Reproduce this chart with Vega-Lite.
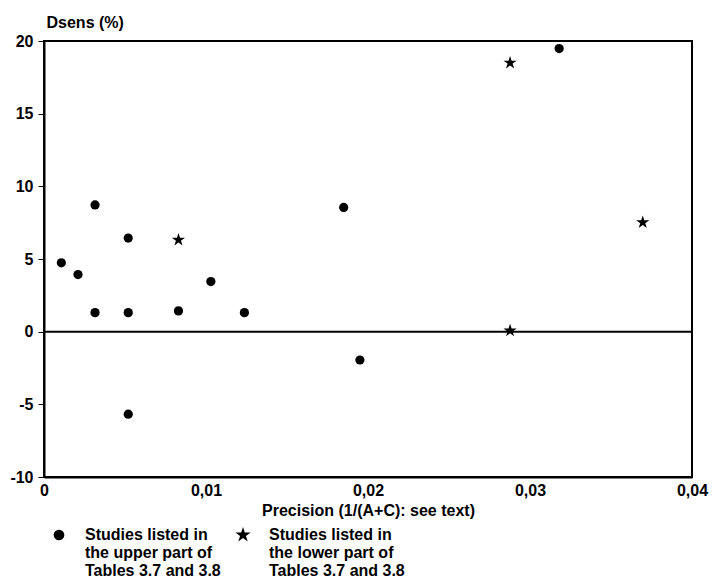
{
  "$schema": "https://vega.github.io/schema/vega-lite/v6.json",
  "width": 648,
  "height": 436,
  "autosize": {"type": "none"},
  "padding": {"left": 44, "top": 41, "right": 20, "bottom": 105},
  "background": "white",
  "config": {
    "font": "Liberation Sans",
    "view": {"stroke": "black", "strokeWidth": 2},
    "axis": {
      "grid": false,
      "domainColor": "black",
      "domainWidth": 2,
      "tickColor": "black",
      "labelColor": "black",
      "titleColor": "black",
      "labelFont": "Liberation Sans",
      "titleFont": "Liberation Sans",
      "labelFontWeight": "bold",
      "titleFontWeight": "bold",
      "labelFontSize": 16,
      "titleFontSize": 16
    }
  },
  "layer": [
    {
      "data": {
        "values": [
          {"precision": 0.00107, "dsens": 4.74, "group": "upper"},
          {"precision": 0.0021, "dsens": 3.93, "group": "upper"},
          {"precision": 0.00315, "dsens": 8.72, "group": "upper"},
          {"precision": 0.00315, "dsens": 1.31, "group": "upper"},
          {"precision": 0.0052, "dsens": 6.44, "group": "upper"},
          {"precision": 0.0052, "dsens": 1.31, "group": "upper"},
          {"precision": 0.0052, "dsens": -5.68, "group": "upper"},
          {"precision": 0.0083, "dsens": 1.43, "group": "upper"},
          {"precision": 0.0103, "dsens": 3.45, "group": "upper"},
          {"precision": 0.01237, "dsens": 1.31, "group": "upper"},
          {"precision": 0.0185, "dsens": 8.55, "group": "upper"},
          {"precision": 0.0195, "dsens": -1.95, "group": "upper"},
          {"precision": 0.0318, "dsens": 19.48, "group": "upper"},
          {"precision": 0.0083, "dsens": 6.32, "group": "lower"},
          {"precision": 0.02877, "dsens": 18.5, "group": "lower"},
          {"precision": 0.02877, "dsens": 0.07, "group": "lower"},
          {"precision": 0.03696, "dsens": 7.52, "group": "lower"}
        ]
      },
      "mark": {"type": "point", "filled": true, "color": "black", "opacity": 1, "size": 85},
      "encoding": {
        "x": {
          "field": "precision",
          "type": "quantitative",
          "scale": {"domain": [0, 0.04], "nice": false, "zero": false},
          "axis": {
            "title": "Precision (1/(A+C): see text)",
            "values": [0, 0.01, 0.02, 0.03, 0.04],
            "labelExpr": "datum.value == 0 ? '0' : replace(format(datum.value, '.2f'), '.', ',')",
            "labelFlush": false,
            "ticks": false,
            "labelPadding": 5,
            "titlePadding": 4
          }
        },
        "y": {
          "field": "dsens",
          "type": "quantitative",
          "scale": {"domain": [-10, 20], "nice": false, "zero": false},
          "axis": {
            "title": "Dsens (%)",
            "values": [-10, -5, 0, 5, 10, 15, 20],
            "labelExpr": "datum.value < 0 ? '-' + abs(datum.value) : '' + datum.value",
            "tickSize": 6,
            "tickWidth": 1,
            "labelPadding": 5,
            "titleAngle": 0,
            "titleAlign": "left",
            "titleBaseline": "alphabetic",
            "titleX": 2,
            "titleY": -14
          }
        },
        "shape": {
          "field": "group",
          "type": "nominal",
          "scale": {
            "domain": ["upper", "lower"],
            "range": ["circle", "M0,-1.5L0.337,-0.464L1.427,-0.464L0.545,0.177L0.882,1.214L0,0.573L-0.882,1.214L-0.545,0.177L-1.427,-0.464L-0.337,-0.464Z"]
          },
          "legend": {
            "title": null,
            "orient": "none",
            "legendX": 7,
            "legendY": 486,
            "direction": "horizontal",
            "columns": 2,
            "columnPadding": 14,
            "symbolSize": 115,
            "symbolFillColor": "black",
            "symbolStrokeColor": "black",
            "symbolStrokeWidth": 0,
            "labelFont": "Liberation Sans",
            "labelFontWeight": "bold",
            "labelFontSize": 16,
            "labelColor": "black",
            "labelOffset": 18,
            "labelLimit": 300,
            "labelExpr": "datum.label == 'upper' ? ['Studies listed in', 'the upper part of', 'Tables 3.7 and 3.8'] : ['Studies listed in', 'the lower part of', 'Tables 3.7 and 3.8']",
            "encode": {
              "labels": {"update": {"dy": {"value": 15.5}, "lineHeight": {"value": 15.5}}}
            }
          }
        }
      }
    },
    {
      "data": {"values": [{"zero": 0}]},
      "mark": {"type": "rule", "color": "black", "strokeWidth": 2},
      "encoding": {
        "y": {"field": "zero", "type": "quantitative"}
      }
    }
  ]
}
